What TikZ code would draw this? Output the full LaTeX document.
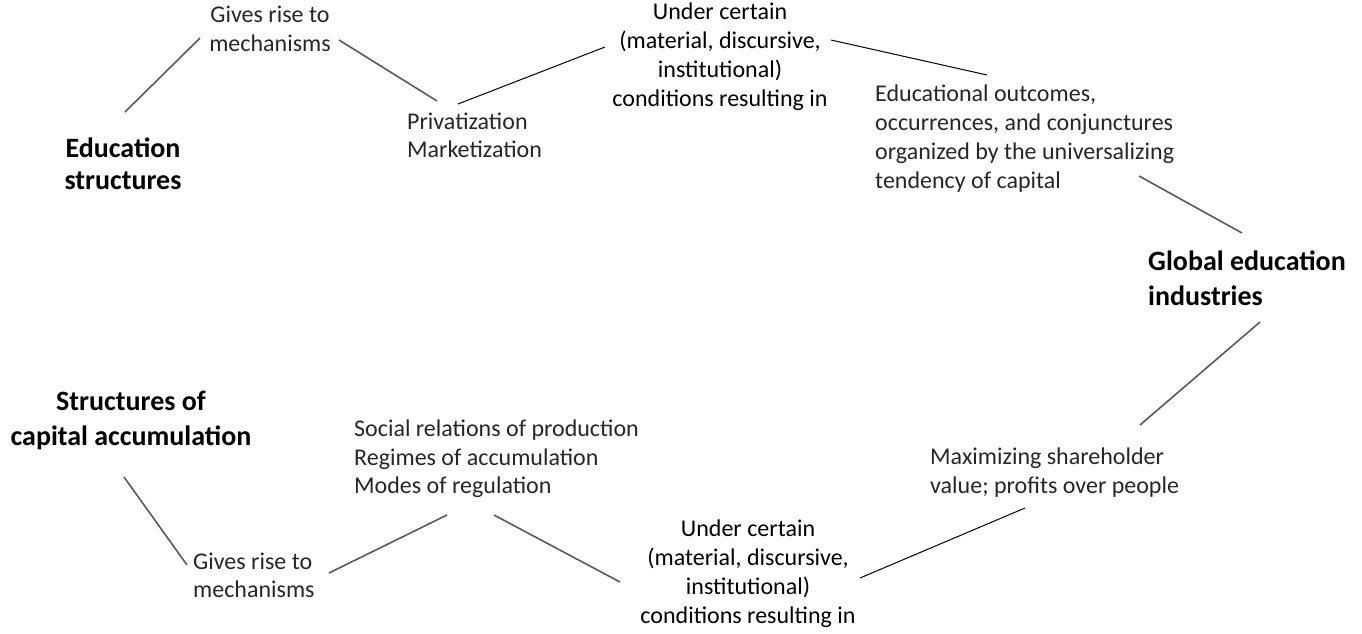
\documentclass[tikz,border=0pt]{standalone}
\usepackage{fontspec}
\setmainfont{Carlito}
\begin{document}
\begin{tikzpicture}[x=1pt,y=-1pt,
  reg/.style={inner sep=0pt, text=black!85, font=\fontsize{24}{29}\selectfont},
  cond/.style={inner sep=0pt, text=black, align=center, anchor=north, font=\fontsize{24}{29}\selectfont},
  big/.style={inner sep=0pt, text=black, font=\bfseries\fontsize{28}{35}\selectfont},
  gline/.style={draw=black!65, line width=1.6pt},
  bline/.style={draw=black, line width=1pt}]
\useasboundingbox (0,0) rectangle (1362,633);
% nodes
\node[reg, align=center, anchor=north] (gives1) at (270,6) {Gives rise to\\mechanisms};
\node[big, align=center, anchor=north, font=\bfseries\fontsize{28}{32}\selectfont] (edu) at (123,138) {Education\\structures};
\node[reg, align=left, anchor=north west, font=\fontsize{24}{27.5}\selectfont] (priv) at (407,113) {Privatization\\Marketization};
\node[cond] (under1) at (720,3) {Under certain\\(material, discursive,\\institutional)\\conditions resulting in};
\node[reg, align=left, anchor=north west] (eduout) at (875,85) {Educational outcomes,\\occurrences, and conjunctures\\organized by the universalizing\\tendency of capital};
\node[big, align=left, anchor=north west] (global) at (1148,251) {Global education\\industries};
\node[reg, align=left, anchor=north west] (maxim) at (930,448) {Maximizing shareholder\\value; profits over people};
\node[cond] (under2) at (748,520) {Under certain\\(material, discursive,\\institutional)\\conditions resulting in};
\node[reg, align=left, anchor=north west, font=\fontsize{24}{28.5}\selectfont] (social) at (354,420) {Social relations of production\\Regimes of accumulation\\Modes of regulation};
\node[reg, align=left, anchor=north west, font=\fontsize{24}{28}\selectfont] (gives2) at (193,553) {Gives rise to\\mechanisms};
\node[big, align=center, anchor=north] (struct) at (131,391) {Structures of\\capital accumulation};
% connector end points
\coordinate (a1) at (125,112); \coordinate (a2) at (200,38);
\coordinate (b1) at (339,40);  \coordinate (b2) at (437,101);
\coordinate (c1) at (458,104); \coordinate (c2) at (605,47);
\coordinate (d1) at (831,40);  \coordinate (d2) at (987,75);
\coordinate (e1) at (1139,176); \coordinate (e2) at (1242,233);
\coordinate (f1) at (1260,322); \coordinate (f2) at (1140,425);
\coordinate (g1) at (1025,508); \coordinate (g2) at (860,578);
\coordinate (h1) at (494,515); \coordinate (h2) at (620,582);
\coordinate (i1) at (329,573); \coordinate (i2) at (447,515);
\coordinate (j1) at (124,477); \coordinate (j2) at (187,565);
% connectors
\draw[gline] (a1) -- (a2);
\draw[gline] (b1) -- (b2);
\draw[bline] (c1) -- (c2);
\draw[bline] (d1) -- (d2);
\draw[gline] (e1) -- (e2);
\draw[gline] (f1) -- (f2);
\draw[bline] (g1) -- (g2);
\draw[gline] (h1) -- (h2);
\draw[gline] (i1) -- (i2);
\draw[gline] (j1) -- (j2);
\end{tikzpicture}
\end{document}
